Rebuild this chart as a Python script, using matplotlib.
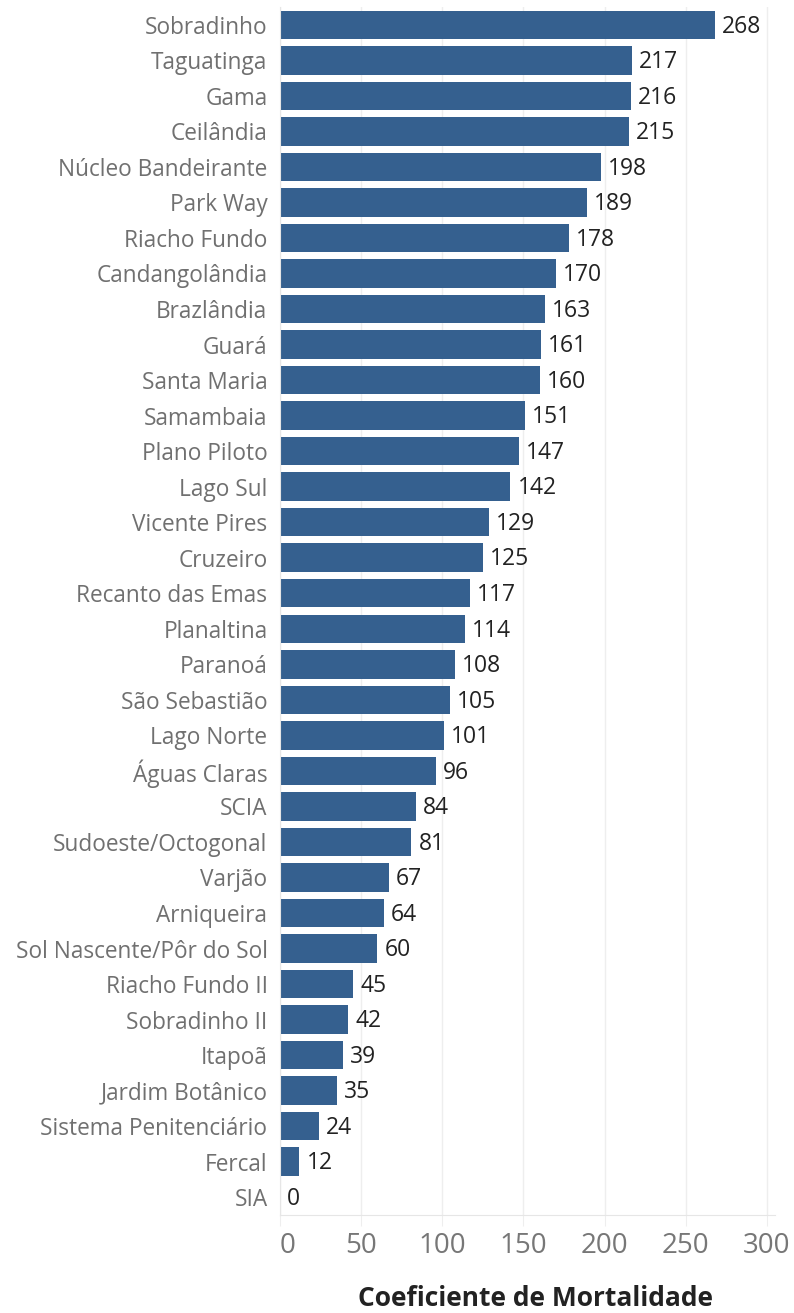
import matplotlib.pyplot as plt
import numpy as np

regioes = ["Sobradinho", "Taguatinga", "Gama", "Ceilândia", "Núcleo Bandeirante",
           "Park Way", "Riacho Fundo", "Candangolândia", "Brazlândia", "Guará",
           "Santa Maria", "Samambaia", "Plano Piloto", "Lago Sul", "Vicente Pires",
           "Cruzeiro", "Recanto das Emas", "Planaltina", "Paranoá", "São Sebastião",
           "Lago Norte", "Águas Claras", "SCIA", "Sudoeste/Octogonal", "Varjão",
           "Arniqueira", "Sol Nascente/Pôr do Sol", "Riacho Fundo II", "Sobradinho II",
           "Itapoã", "Jardim Botânico", "Sistema Penitenciário", "Fercal", "SIA"]
coeficiente = [268, 217, 216, 215, 198, 189, 178, 170, 163, 161, 160, 151, 147, 142,
               129, 125, 117, 114, 108, 105, 101, 96, 84, 81, 67, 64, 60, 45, 42,
               39, 35, 24, 12, 0]
ticks_x = [0, 50, 100, 150, 200, 250, 300]

plt.rcParams['font.family'] = ['Open Sans', 'DejaVu Sans']

fig = plt.figure(figsize=(7.94, 13.13), dpi=100)
ax = fig.add_axes([280 / 794, 1 - 1215 / 1313, 495 / 794, 1208 / 1313])

y = np.arange(len(regioes))
ax.barh(y, coeficiente, height=0.8, color="#35608f", zorder=2)
for yi, v in zip(y, coeficiente):
    ax.text(v + 4.3, yi + 0.05, str(v), va="center", ha="left", fontsize=16.5, color="#222222")

ax.set_xlim(0, 305)
ax.set_ylim(len(regioes) - 0.5, -0.5)
ax.set_yticks(y)
ax.set_yticklabels(regioes, fontsize=16.3, color="#707070")
ax.set_xticks(ticks_x)
ax.set_xticklabels([str(t) for t in ticks_x], fontsize=20, color="#777777")
ax.get_xticklabels()[0].set_ha("left")
ax.tick_params(axis="y", length=0, pad=9)
ax.tick_params(axis="x", length=8, color="#eeeeee", pad=4)
ax.grid(axis="x", color="#eeeeee", linewidth=1, zorder=0)
for s in ["top", "right"]:
    ax.spines[s].set_visible(False)
ax.spines["left"].set_color("#e6e6e6")
ax.spines["bottom"].set_color("#e6e6e6")
ax.set_xlabel("Coeficiente de Mortalidade", fontsize=19, fontweight="bold",
              color="#222222", labelpad=16)
ax.xaxis.set_label_coords(0.517, -0.058)

fig.savefig("out.png", dpi=100)
